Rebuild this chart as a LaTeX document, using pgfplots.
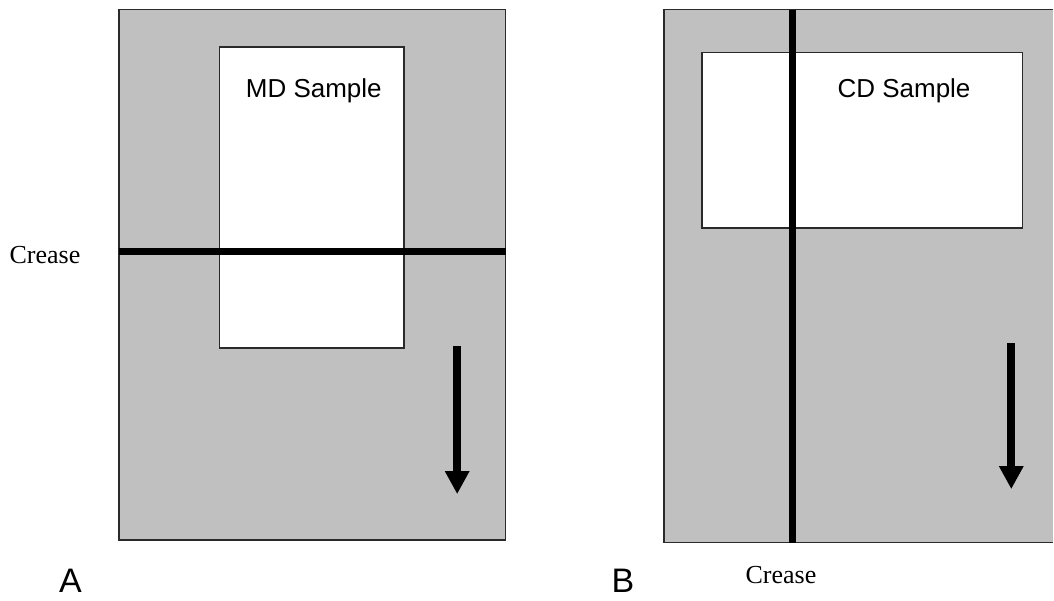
\documentclass[border=0pt]{standalone}
\usepackage{fontspec}
\setmainfont{Liberation Serif}
\newfontfamily\arial{Liberation Sans}
\usepackage{pgfplots}
\pgfplotsset{compat=1.18}
\usetikzlibrary{arrows.meta}

\definecolor{panelgray}{HTML}{C0C0C0}
\definecolor{edge}{HTML}{2A2A2A}

\begin{document}
\begin{tikzpicture}
\begin{axis}[
    scale only axis,
    width=1054pt, height=601pt,
    xmin=0, xmax=1054,
    ymin=0, ymax=601,
    y dir=reverse,
    hide axis,
    clip=false,
]
% page extent
\addplot[draw=none] coordinates {(0,0)(1054,601)};

% panel A
\addplot[fill=panelgray, draw=edge, line width=1.5pt]
    coordinates {(119,9.6)(506,9.6)(506,540.4)(119,540.4)} -- cycle;
\addplot[fill=white, draw=edge, line width=1.5pt]
    coordinates {(219.7,46.8)(404.3,46.8)(404.3,348.4)(219.7,348.4)} -- cycle;
\addplot[black, line width=7pt]
    coordinates {(119,252)(506,252)};
\addplot[black, line width=8pt, -{Triangle[width=23pt,length=23pt]}]
    coordinates {(457.5,346)(457.5,494.5)};

% panel B (runs off the right side)
\addplot[fill=panelgray, draw=none]
    coordinates {(664.7,9.6)(1054,9.6)(1054,543)(664.7,543)} -- cycle;
\addplot[draw=edge, line width=1.5pt]
    coordinates {(1054,9.6)(664.7,9.6)(664.7,543)(1054,543)};
\addplot[fill=white, draw=edge, line width=1.5pt]
    coordinates {(702.5,52.5)(1023,52.5)(1023,228.4)(702.5,228.4)} -- cycle;
\addplot[black, line width=7pt]
    coordinates {(793.4,9.6)(793.4,543)};
\addplot[black, line width=8pt, -{Triangle[width=23pt,length=23pt]}]
    coordinates {(1012,343.4)(1012,489.5)};

% labels
\node[font=\arial\fontsize{26}{30}\selectfont] at (314,91) {MD Sample};
\node[font=\arial\fontsize{26}{30}\selectfont] at (904.7,91) {CD Sample};
\node[font=\fontsize{26}{30}\selectfont] at (45,255) {Crease};
\node[font=\fontsize{26}{30}\selectfont] at (781.5,575) {Crease};
\node[font=\arial\fontsize{34}{38}\selectfont, anchor=base, inner sep=0pt] at (70.5,593) {A};
\node[font=\arial\fontsize{34}{38}\selectfont, anchor=base, inner sep=0pt] at (623.5,593) {B};

\end{axis}
\end{tikzpicture}
\end{document}
